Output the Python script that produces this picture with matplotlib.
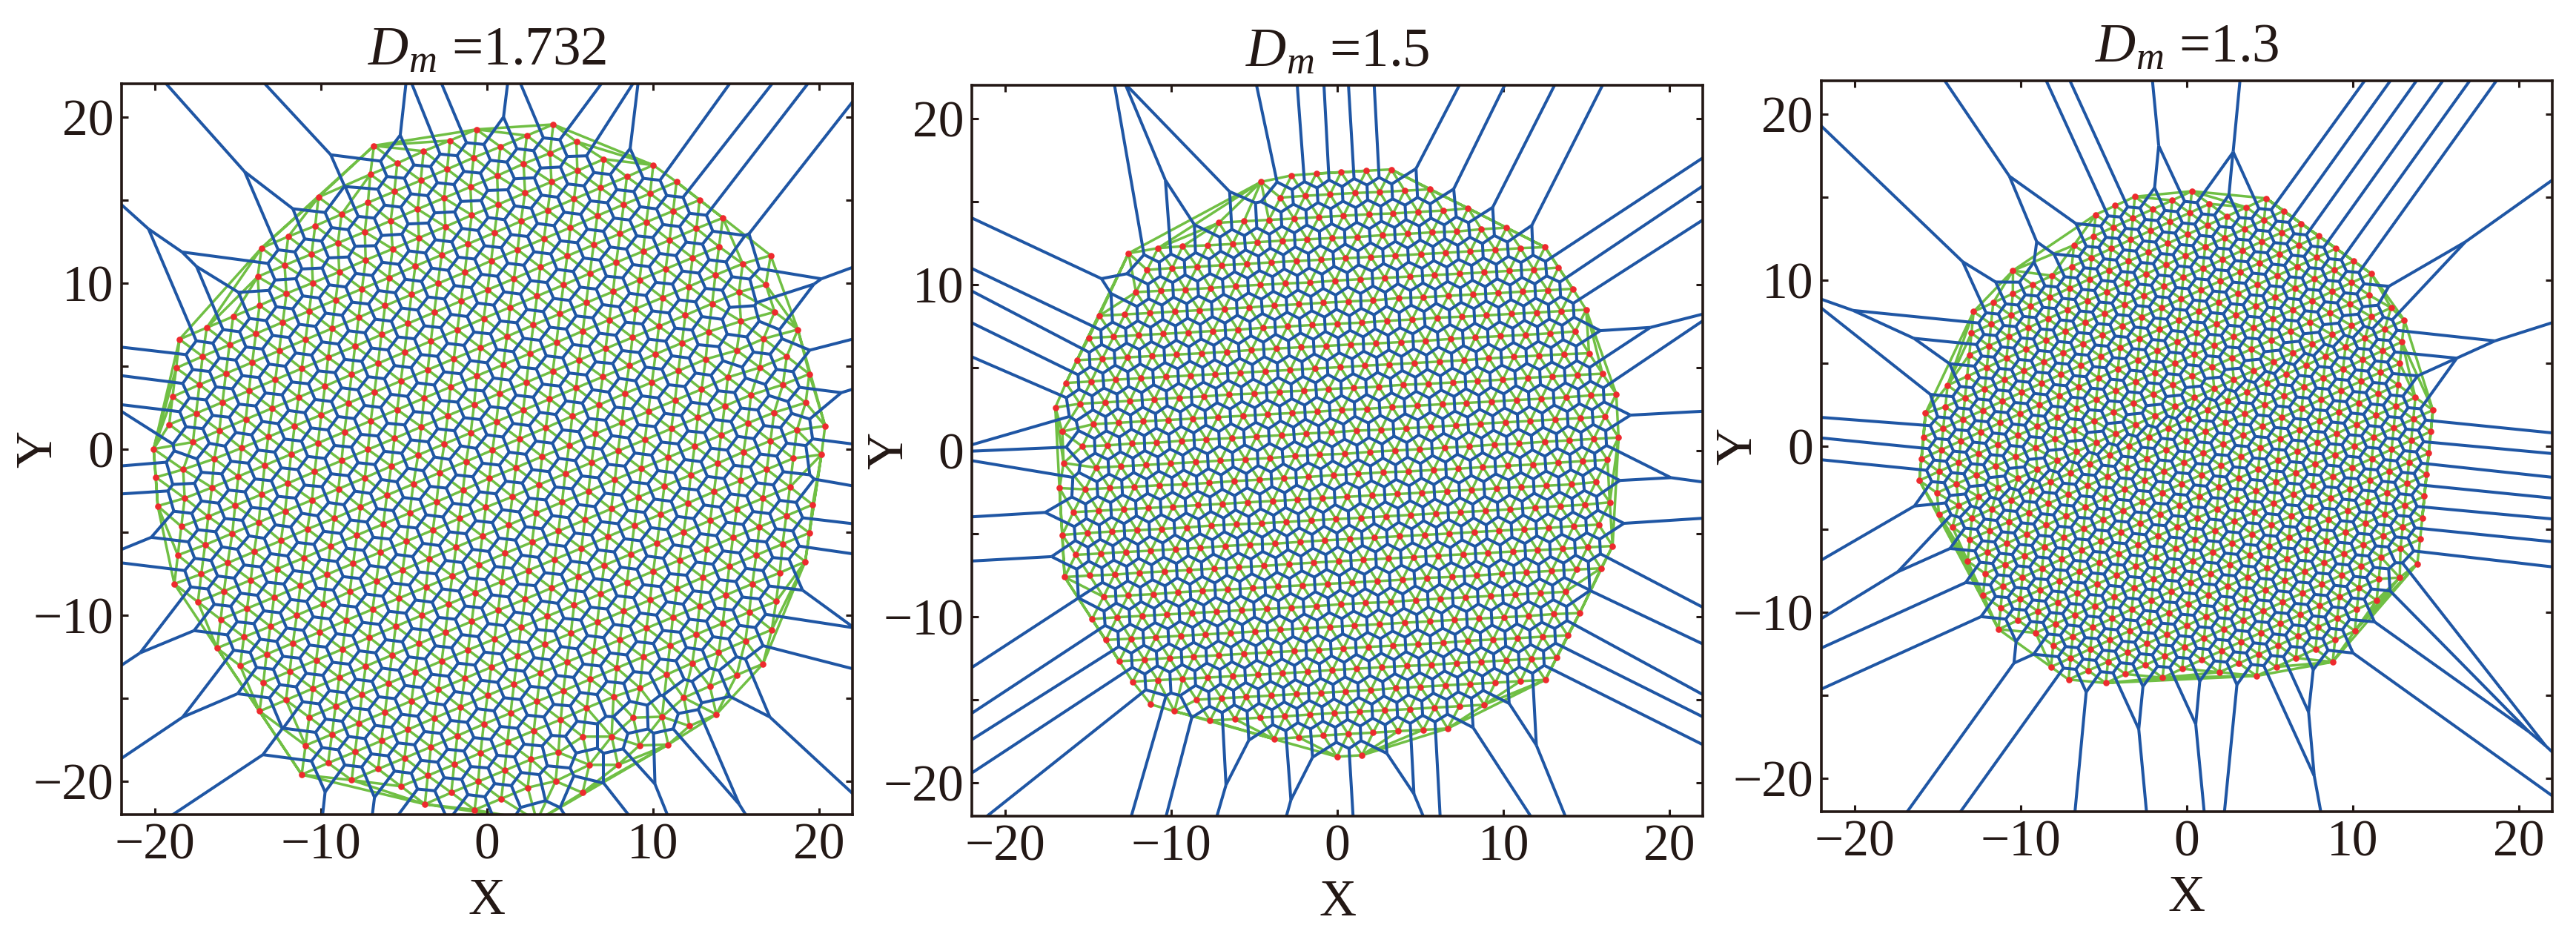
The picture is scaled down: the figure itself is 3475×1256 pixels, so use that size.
import numpy as np
import matplotlib
matplotlib.use('Agg')
import matplotlib.pyplot as plt
import matplotlib.tri as mtri
from matplotlib.collections import LineCollection

# particle positions, one line = one lattice row
p1_x = [-6.81,
 -10.15,-7.03,-5.41,-3.82,-2.23,-0.64,
 -13.58,-11.97,-10.35,-8.76,-7.17,-5.58,-3.99,-2.40,-0.81,0.81,2.40,3.99,
 -13.81,-12.19,-10.57,-8.98,-7.36,-5.80,-4.18,-2.59,-1.00,0.61,2.20,3.79,5.38,
 -18.52,-16.88,-15.29,-13.70,-12.08,-10.49,-8.90,-7.31,-5.69,-4.10,-2.51,-0.92,0.67,2.29,3.88,5.44,7.03,
 -18.72,-17.13,-15.51,-13.92,-12.30,-10.71,-9.12,-7.53,-5.91,-4.32,-2.73,-1.14,0.45,2.04,3.65,5.24,6.83,8.42,10.01,
 -18.94,-17.32,-15.73,-14.14,-12.52,-10.93,-9.34,-7.73,-6.14,-4.55,-2.96,-1.34,0.25,1.84,3.43,5.02,6.64,8.23,9.82,11.41,
 -19.14,-17.52,-15.93,-14.34,-12.75,-11.16,-9.57,-7.95,-6.36,-4.77,-3.18,-1.56,0.03,1.62,3.21,4.83,6.42,8.01,9.59,11.21,12.80,
 -20.08,-17.71,-16.12,-14.53,-12.94,-11.35,-9.76,-8.15,-6.56,-4.97,-3.38,-1.79,-0.20,1.39,3.01,4.60,6.19,7.78,9.40,10.99,12.61,14.20,
 -19.94,-18.30,-16.43,-14.79,-13.18,-11.59,-9.98,-8.37,-6.78,-5.19,-3.57,-2.00,-0.39,1.20,2.79,4.38,5.97,7.59,9.18,10.76,12.38,13.97,
 -19.83,-18.21,-16.57,-14.98,-13.39,-11.80,-10.18,-8.59,-7.00,-5.41,-3.79,-2.20,-0.61,0.98,2.57,4.18,5.77,7.36,8.95,10.57,12.16,13.75,15.40,17.08,
 -18.41,-16.79,-15.17,-13.58,-11.99,-10.38,-8.76,-7.17,-5.58,-3.96,-2.37,-0.78,0.75,2.37,3.96,5.55,7.14,8.76,10.35,11.94,13.56,15.17,16.79,
 -18.62,-16.98,-15.34,-13.75,-12.16,-10.54,-8.95,-7.36,-5.77,-4.15,-2.57,-0.98,0.56,2.18,3.77,5.36,6.97,8.56,10.15,11.74,13.33,15.29,17.32,
 -18.83,-17.21,-15.62,-14.03,-12.41,-10.82,-9.21,-7.62,-6.03,-4.44,-2.85,-1.26,0.33,1.95,3.54,5.13,6.72,8.31,9.93,11.52,13.17,15.04,16.65,18.72,
 -17.41,-15.84,-14.23,-12.64,-11.02,-9.43,-7.84,-6.25,-4.66,-3.04,-1.45,0.14,1.73,3.32,4.94,6.53,8.12,9.71,11.32,12.92,14.50,16.43,18.05,
 -16.04,-14.45,-12.83,-11.24,-9.65,-8.06,-6.44,-4.85,-3.26,-1.67,-0.08,1.53,3.12,4.71,6.30,7.89,9.51,11.10,12.69,14.31,15.90,17.82,19.41,
 -16.26,-14.64,-13.05,-11.46,-9.85,-8.26,-6.67,-5.08,-3.49,-1.87,-0.28,1.31,2.93,4.52,6.11,7.70,9.29,10.91,12.50,14.09,15.70,17.29,19.19,
 -14.87,-13.28,-11.69,-10.07,-8.48,-6.89,-5.30,-3.68,-2.09,-0.50,1.09,2.71,4.30,5.89,7.48,9.09,10.68,12.27,13.89,15.45,17.07,18.66,20.36,
 -13.47,-11.88,-10.29,-8.70,-7.09,-5.50,-3.91,-2.32,-0.70,0.89,2.48,4.07,5.69,7.28,8.87,10.46,12.08,13.67,15.26,16.85,18.44,20.14,
 -13.70,-12.11,-10.49,-8.90,-7.31,-5.72,-4.10,-2.51,-0.92,0.67,2.29,3.88,5.47,7.06,8.65,10.24,11.85,13.44,15.03,16.62,18.24,
 -10.71,-9.12,-7.53,-5.94,-4.32,-2.73,-1.14,0.45,2.04,3.63,5.24,6.83,8.42,10.01,11.60,13.22,14.81,16.40,18.02,19.61,
 -10.93,-9.34,-7.73,-6.14,-4.55,-2.93,-1.34,0.25,1.84,3.46,5.05,6.64,8.23,9.82,11.44,13.00,14.59,16.21,17.80,19.41,
 -11.16,-9.57,-7.95,-6.36,-4.77,-3.18,-1.59,0.03,1.62,3.21,4.80,6.42,8.01,9.60,11.19,12.80,14.39,15.98,17.63,19.16,
 -8.15,-6.56,-4.97,-3.38,-1.79,-0.20,1.42,3.01,4.60,6.22,7.81,9.40,11.02,12.61,14.20,15.79,17.41,
 -5.19,-3.57,-1.98,-0.39,1.23,2.82,4.44,6.00,7.62,9.21,10.82,12.36,13.95,15.56,17.15,
 -3.74,-2.15,-0.53,1.06,2.65,4.30,5.77,7.50,8.81,10.54,11.85,13.42,15.03,16.62,
 -0.75,0.86,2.45,4.13,6.16,7.89,9.18,10.91,12.19,13.81,
 5.75,3.00]
p1_y = [18.27,
 15.17,16.54,17.21,17.94,18.58,19.25,
 12.11,12.80,13.44,14.14,14.84,15.51,16.18,16.85,17.55,18.21,18.88,19.55,
 10.38,11.07,11.74,12.41,13.08,13.75,14.45,15.12,15.79,16.46,17.18,17.82,18.52,
 6.61,7.31,7.98,8.65,9.37,10.01,10.67,11.38,12.05,12.72,13.39,14.09,14.73,15.43,16.09,16.76,17.46,
 4.88,5.58,6.28,6.95,7.64,8.31,8.98,9.65,10.32,11.02,11.69,12.36,13.03,13.72,14.37,15.06,15.73,16.40,17.10,
 3.15,3.88,4.55,5.22,5.92,6.59,7.26,7.93,8.63,9.30,9.97,10.64,11.34,12.00,12.67,13.34,14.05,14.73,15.39,16.09,
 1.48,2.15,2.82,3.51,4.18,4.85,5.52,6.19,6.89,7.56,8.23,8.92,9.59,10.26,10.96,11.63,12.30,12.97,13.67,14.34,15.00,
 0.00,0.42,1.12,1.79,2.46,3.12,3.79,4.49,5.16,5.83,6.50,7.17,7.87,8.54,9.21,9.88,10.58,11.24,11.91,12.58,13.28,13.92,
 -1.70,-1.23,-0.59,0.06,0.73,1.39,2.06,2.76,3.43,4.10,4.77,5.44,6.11,6.78,7.47,8.14,8.81,9.48,10.18,10.85,11.52,12.19,
 -3.43,-2.96,-2.32,-1.65,-0.98,-0.31,0.36,1.03,1.70,2.37,3.07,3.74,4.41,5.08,5.75,6.42,7.11,7.78,8.45,9.12,9.79,10.48,11.16,11.66,
 -4.66,-4.07,-3.40,-2.73,-2.06,-1.37,-0.70,-0.03,0.64,1.34,2.01,2.68,3.35,4.02,4.69,5.36,6.05,6.72,7.39,8.06,8.76,9.45,9.90,
 -6.39,-5.77,-5.08,-4.41,-3.74,-3.07,-2.40,-1.73,-1.03,-0.36,0.31,0.98,1.65,2.34,3.01,3.68,4.35,5.02,5.72,6.39,7.06,7.70,8.26,
 -8.12,-7.53,-6.86,-6.19,-5.52,-4.82,-4.18,-3.48,-2.78,-2.11,-1.42,-0.75,-0.06,0.61,1.28,1.98,2.65,3.35,4.02,4.71,5.41,5.94,6.64,7.20,
 -9.21,-8.56,-7.89,-7.22,-6.55,-5.86,-5.19,-4.52,-3.85,-3.18,-2.48,-1.76,-1.12,-0.45,0.22,0.92,1.59,2.26,2.93,3.60,4.32,4.91,5.58,
 -10.26,-9.60,-8.93,-8.23,-7.56,-6.89,-6.22,-5.55,-4.88,-4.18,-3.51,-2.87,-2.15,-1.48,-0.81,-0.11,0.56,1.23,1.90,2.59,3.26,3.88,4.52,
 -11.99,-11.32,-10.68,-10.01,-9.32,-8.59,-7.95,-7.28,-6.61,-5.91,-5.24,-4.57,-3.87,-3.20,-2.54,-1.84,-1.17,-0.50,0.17,0.84,1.56,2.20,2.79,
 -13.05,-12.36,-11.69,-11.02,-10.32,-9.65,-8.98,-8.31,-7.64,-6.97,-6.28,-5.61,-4.94,-4.27,-3.60,-2.90,-2.23,-1.56,-0.86,-0.17,0.50,1.14,1.39,
 -14.06,-13.39,-12.72,-12.05,-11.35,-10.68,-10.01,-9.34,-8.65,-7.98,-7.31,-6.64,-5.97,-5.27,-4.60,-3.93,-3.26,-2.57,-1.90,-1.23,-0.56,-0.33,
 -15.79,-15.12,-14.42,-13.75,-13.08,-12.41,-11.72,-11.05,-10.38,-9.71,-9.04,-8.37,-7.67,-7.00,-6.33,-5.66,-4.99,-4.30,-3.63,-2.96,-2.29,
 -16.15,-15.48,-14.78,-14.11,-13.44,-12.77,-12.10,-11.44,-10.74,-10.07,-9.40,-8.73,-8.03,-7.36,-6.69,-6.02,-5.33,-4.69,-4.02,-3.35,
 -17.85,-17.18,-16.51,-15.84,-15.17,-14.48,-13.81,-13.14,-12.47,-11.77,-11.10,-10.43,-9.76,-9.09,-8.42,-7.73,-7.06,-6.39,-5.72,-5.05,
 -19.61,-18.91,-18.24,-17.57,-16.90,-16.20,-15.54,-14.84,-14.17,-13.50,-12.83,-12.16,-11.49,-10.79,-10.13,-9.46,-8.79,-8.12,-7.45,-6.78,
 -19.94,-19.27,-18.61,-17.94,-17.27,-16.57,-15.90,-15.20,-14.56,-13.86,-13.19,-12.52,-11.83,-11.16,-10.49,-9.82,-9.18,
 -20.31,-19.67,-19.00,-18.30,-17.63,-16.96,-16.29,-15.59,-14.92,-14.39,-13.58,-12.89,-12.25,-11.55,-10.88,
 -21.39,-20.69,-20.03,-19.36,-18.69,-18.27,-17.32,-17.32,-16.18,-16.12,-14.98,-14.28,-13.61,-12.94,
 -21.73,-21.06,-20.39,-20.00,-19.02,-19.02,-17.85,-17.80,-16.68,-15.98,
 -20.70,-22.40]

p2_x = [-4.60,-2.76,-1.28,0.22,1.73,3.24,
 -3.43,-1.95,-0.45,1.06,2.54,4.05,5.55,
 -7.14,-5.63,-4.13,-2.62,-1.12,0.36,1.90,3.35,4.85,6.36,7.87,
 -12.58,-10.80,-9.32,-7.81,-6.31,-4.83,-3.32,-1.82,-0.31,1.20,2.71,4.21,5.69,7.20,8.67,10.18,
 -11.46,-9.95,-8.45,-6.97,-5.47,-3.99,-2.48,-0.98,0.50,2.01,3.49,5.02,6.53,8.00,9.51,11.02,12.50,
 -12.13,-10.65,-9.15,-7.64,-6.14,-4.63,-3.15,-1.65,-0.14,1.37,2.85,4.38,5.86,7.36,8.84,10.34,11.82,13.31,
 -14.34,-12.80,-11.30,-9.79,-8.31,-6.81,-5.30,-3.80,-2.32,-0.84,0.67,2.15,3.68,5.16,6.67,8.17,9.68,11.16,12.66,14.17,
 -14.98,-13.47,-11.99,-10.48,-8.98,-7.50,-6.00,-4.49,-3.01,-1.51,0.00,1.48,2.99,4.49,6.00,7.51,8.98,10.48,11.99,13.47,14.98,
 -15.68,-14.17,-12.66,-11.16,-9.68,-8.17,-6.67,-5.19,-3.68,-2.18,-0.67,0.81,2.32,3.82,5.30,6.81,8.31,9.82,11.33,12.80,14.31,
 -16.35,-14.84,-13.36,-11.85,-10.34,-8.84,-7.36,-5.86,-4.35,-2.85,-1.37,0.17,1.65,3.12,4.63,6.14,7.64,9.12,10.62,12.13,13.64,15.15,
 -16.99,-15.51,-14.00,-12.50,-11.02,-9.54,-8.03,-6.53,-5.02,-3.51,-2.04,-0.53,0.98,2.48,3.96,5.47,6.97,8.45,9.96,11.47,12.94,14.45,15.96,
 -14.70,-13.19,-11.69,-10.18,-8.70,-7.20,-5.69,-4.21,-2.71,-1.20,0.28,1.79,3.29,4.80,6.31,7.78,9.29,10.79,12.27,13.78,15.28,16.79,
 -16.57,-15.37,-13.86,-12.36,-10.88,-9.37,-7.89,-6.36,-4.88,-3.37,-1.87,-0.36,1.14,2.62,4.13,5.61,7.12,8.62,10.12,11.60,13.11,14.62,16.12,
 -16.49,-14.53,-13.05,-11.54,-10.04,-8.54,-7.06,-5.55,-4.05,-2.54,-1.06,0.45,1.96,3.46,4.94,6.45,7.95,9.46,10.94,12.47,13.95,15.43,16.93,
 -16.74,-15.20,-13.72,-12.22,-10.71,-9.20,-7.73,-6.22,-4.71,-3.24,-1.73,-0.22,1.26,2.76,4.27,5.78,7.29,8.76,10.26,11.77,13.28,14.76,16.26,
 -15.90,-14.39,-12.88,-11.38,-9.90,-8.39,-6.92,-5.41,-3.90,-2.40,-0.92,0.59,2.09,3.60,5.08,6.59,8.09,9.59,11.07,12.58,14.09,15.56,
 -16.57,-15.06,-13.58,-12.08,-10.57,-9.06,-7.59,-6.08,-4.57,-3.07,-1.59,-0.08,1.43,2.93,4.41,5.92,7.42,8.92,10.40,11.90,13.41,14.89,16.40,
 -15.76,-14.25,-12.75,-11.24,-9.76,-8.26,-6.75,-5.27,-3.77,-2.26,-0.75,0.73,2.23,3.74,5.24,6.72,8.23,9.73,11.24,12.72,14.23,15.73,
 -16.43,-14.92,-13.42,-11.91,-10.43,-8.92,-7.42,-5.94,-4.43,-2.93,-1.42,0.06,1.57,3.07,4.58,6.08,7.56,9.07,10.57,12.05,13.56,15.06,16.57,
 -14.09,-12.61,-11.10,-9.60,-8.12,-6.61,-5.11,-3.60,-2.12,-0.61,0.89,2.40,3.91,5.38,6.89,8.40,9.90,11.38,12.89,14.39,15.87,
 -14.78,-13.27,-11.77,-10.26,-8.78,-7.28,-5.77,-4.27,-2.79,-1.28,0.20,1.70,3.21,4.71,6.19,7.70,9.21,10.71,12.22,13.72,
 -13.95,-12.44,-10.93,-9.43,-7.95,-6.45,-4.97,-3.46,-1.95,-0.45,1.03,2.54,4.04,5.55,7.06,8.53,10.04,11.52,13.03,14.59,
 -13.14,-11.63,-10.12,-8.65,-7.14,-5.64,-4.13,-2.62,-1.14,0.36,1.87,3.35,4.85,6.36,7.87,9.37,10.85,12.36,13.86,
 -12.33,-10.82,-9.32,-7.81,-6.31,-4.80,-3.32,-1.81,-0.31,1.17,2.68,4.18,5.66,7.17,8.67,10.18,11.67,13.19,
 -11.24,-8.48,-6.98,-5.50,-3.99,-2.48,-0.98,0.50,2.01,3.51,4.99,6.50,8.00,9.51,11.02,12.52,
 -9.82,-7.67,-6.17,-4.66,-3.18,-1.65,-0.17,1.34,2.85,4.35,5.86,7.34,8.84,
 -3.82,-2.34,-0.84,0.64,2.15,3.65,5.16,6.64,
 -0.03,1.48]
p2_y = [16.18,16.57,16.68,16.76,16.85,16.93,
 15.23,15.34,15.43,15.51,15.57,15.65,15.73,
 13.72,13.81,13.89,13.97,14.06,14.14,14.23,14.28,14.37,14.45,14.59,
 11.88,12.19,12.30,12.36,12.44,12.55,12.64,12.72,12.80,12.86,12.97,13.05,13.14,13.19,13.33,13.42,
 10.88,10.99,11.07,11.16,11.24,11.33,11.41,11.49,11.58,11.66,11.74,11.83,11.91,12.00,12.08,12.19,12.25,
 9.54,9.62,9.70,9.79,9.90,9.98,10.06,10.12,10.23,10.32,10.40,10.48,10.57,10.65,10.73,10.82,10.90,11.02,
 8.12,8.20,8.28,8.37,8.45,8.54,8.62,8.73,8.81,8.90,8.98,9.04,9.18,9.23,9.32,9.40,9.48,9.57,9.65,9.74,
 6.78,6.86,6.95,7.03,7.11,7.20,7.28,7.39,7.47,7.56,7.64,7.70,7.81,7.89,8.00,8.06,8.14,8.23,8.31,8.40,8.48,
 5.44,5.52,5.61,5.69,5.78,5.86,5.94,6.05,6.14,6.22,6.30,6.39,6.45,6.53,6.61,6.72,6.81,6.89,6.97,7.06,7.17,
 4.07,4.16,4.27,4.35,4.44,4.52,4.60,4.69,4.77,4.85,4.94,5.02,5.11,5.19,5.27,5.36,5.44,5.55,5.64,5.72,5.80,5.86,
 2.59,2.82,2.90,2.99,3.09,3.18,3.26,3.37,3.43,3.54,3.60,3.71,3.77,3.85,3.96,4.02,4.10,4.18,4.27,4.38,4.46,4.55,4.63,
 1.59,1.67,1.76,1.84,1.92,2.01,2.09,2.18,2.26,2.34,2.45,2.51,2.62,2.70,2.79,2.87,2.95,3.04,3.12,3.21,3.32,3.40,
 1.14,0.25,0.31,0.42,0.47,0.59,0.67,0.75,0.84,0.92,1.03,1.09,1.20,1.25,1.34,1.42,1.51,1.62,1.70,1.78,1.87,1.95,2.06,
 -0.75,-1.03,-0.95,-0.87,-0.78,-0.70,-0.61,-0.53,-0.45,-0.33,-0.25,-0.20,-0.08,0.00,0.08,0.17,0.25,0.36,0.42,0.53,0.61,0.70,0.78,
 -2.26,-2.34,-2.26,-2.18,-2.09,-2.04,-1.95,-1.84,-1.76,-1.67,-1.59,-1.48,-1.40,-1.31,-1.26,-1.17,-1.09,-1.00,-0.92,-0.84,-0.73,-0.64,-0.56,
 -3.71,-3.63,-3.54,-3.46,-3.38,-3.29,-3.21,-3.12,-3.04,-2.96,-2.87,-2.79,-2.70,-2.62,-2.54,-2.45,-2.37,-2.28,-2.20,-2.12,-2.04,-1.90,
 -5.08,-4.97,-4.88,-4.80,-4.72,-4.63,-4.52,-4.44,-4.38,-4.30,-4.21,-4.13,-4.05,-3.96,-3.88,-3.79,-3.71,-3.63,-3.54,-3.43,-3.35,-3.26,-3.12,
 -6.28,-6.20,-6.11,-6.03,-5.94,-5.86,-5.75,-5.66,-5.61,-5.50,-5.41,-5.33,-5.25,-5.16,-5.08,-5.00,-4.91,-4.83,-4.74,-4.66,-4.55,-4.46,
 -7.62,-7.53,-7.47,-7.36,-7.28,-7.20,-7.11,-7.03,-6.95,-6.84,-6.75,-6.67,-6.58,-6.50,-6.42,-6.33,-6.25,-6.17,-6.08,-6.00,-5.92,-5.83,-5.75,
 -8.81,-8.73,-8.65,-8.54,-8.45,-8.37,-8.29,-8.20,-8.12,-8.03,-7.95,-7.87,-7.78,-7.67,-7.61,-7.53,-7.42,-7.34,-7.25,-7.17,-7.09,
 -10.15,-10.04,-9.96,-9.87,-9.79,-9.71,-9.62,-9.54,-9.46,-9.37,-9.26,-9.18,-9.12,-9.01,-8.92,-8.84,-8.76,-8.67,-8.59,-8.51,
 -11.41,-11.33,-11.24,-11.16,-11.07,-10.99,-10.90,-10.79,-10.71,-10.62,-10.54,-10.46,-10.37,-10.29,-10.20,-10.12,-10.04,-9.96,-9.85,-9.79,
 -12.69,-12.60,-12.49,-12.41,-12.33,-12.24,-12.16,-12.08,-12.00,-11.91,-11.83,-11.75,-11.66,-11.58,-11.46,-11.38,-11.30,-11.21,-11.13,
 -13.92,-13.83,-13.75,-13.67,-13.59,-13.50,-13.42,-13.33,-13.22,-13.14,-13.05,-12.97,-12.91,-12.80,-12.72,-12.64,-12.55,-12.47,
 -15.29,-15.01,-14.92,-14.84,-14.76,-14.67,-14.59,-14.51,-14.43,-14.31,-14.23,-14.14,-14.06,-13.98,-13.89,-13.81,
 -15.70,-16.26,-16.18,-16.09,-16.01,-15.90,-15.81,-15.73,-15.65,-15.57,-15.48,-15.40,-15.31,
 -17.38,-17.27,-17.16,-17.07,-16.99,-16.90,-16.82,-16.74,
 -18.44,-18.35]

p3_x = [-5.48,-4.30,-3.12,
 -10.46,-6.79,-5.61,-4.42,-3.24,-2.06,-0.87,0.31,
 -12.83,-11.65,-10.47,-9.28,-8.10,-6.92,-5.73,-4.55,-3.37,-2.18,-1.00,0.18,1.37,
 -12.96,-11.78,-10.59,-9.41,-8.23,-7.05,-5.86,-4.68,-3.50,-2.31,-1.13,0.05,1.24,2.42,3.60,4.79,
 -13.09,-11.91,-10.72,-9.54,-8.36,-7.17,-5.99,-4.81,-3.62,-2.44,-1.26,-0.07,1.11,2.29,3.48,4.66,5.84,
 -14.40,-13.22,-12.03,-10.85,-9.67,-8.48,-7.30,-6.12,-4.93,-3.75,-2.57,-1.38,-0.20,0.98,2.17,3.35,4.53,5.72,6.90,
 -15.73,-14.53,-13.35,-12.16,-10.98,-9.80,-8.61,-7.43,-6.25,-5.06,-3.88,-2.70,-1.51,-0.33,0.85,2.04,3.22,4.40,5.59,6.77,7.95,
 -15.84,-14.66,-13.48,-12.29,-11.11,-9.93,-8.74,-7.56,-6.38,-5.19,-4.01,-2.83,-1.64,-0.46,0.72,1.91,3.09,4.27,5.46,6.64,7.82,9.00,
 -15.97,-14.79,-13.60,-12.42,-11.24,-10.05,-8.87,-7.69,-6.50,-5.32,-4.14,-2.95,-1.77,-0.59,0.60,1.78,2.96,4.15,5.33,6.51,7.70,8.88,10.06,
 -16.10,-14.92,-13.73,-12.55,-11.37,-10.18,-9.00,-7.82,-6.63,-5.45,-4.27,-3.08,-1.90,-0.72,0.47,1.65,2.83,4.02,5.20,6.38,7.57,8.75,9.93,11.12,
 -15.04,-13.86,-12.67,-11.49,-10.31,-9.12,-7.94,-6.76,-5.57,-4.39,-3.21,-2.02,-0.84,0.34,1.53,2.71,3.89,5.08,6.26,7.44,8.63,9.81,10.99,
 -14.91,-13.73,-12.54,-11.36,-10.18,-8.99,-7.81,-6.63,-5.44,-4.26,-3.08,-1.89,-0.71,0.47,1.66,2.84,4.02,5.21,6.39,7.57,8.76,9.94,11.12,12.31,
 -14.11,-12.93,-11.74,-10.56,-9.38,-8.19,-7.01,-5.83,-4.64,-3.46,-2.28,-1.09,0.09,1.27,2.46,3.64,4.82,6.01,7.19,8.37,9.56,10.74,11.92,13.11,
 -13.06,-11.88,-10.69,-9.51,-8.33,-7.14,-5.96,-4.78,-3.59,-2.41,-1.23,-0.04,1.14,2.32,3.51,4.69,5.87,7.06,8.24,9.42,10.61,11.79,12.97,
 -13.19,-12.01,-10.82,-9.64,-8.46,-7.27,-6.09,-4.91,-3.72,-2.54,-1.36,-0.17,1.01,2.19,3.38,4.56,5.74,6.93,8.11,9.29,10.48,11.66,12.84,
 -12.13,-10.95,-9.76,-8.58,-7.40,-6.21,-5.03,-3.85,-2.66,-1.48,-0.30,0.89,2.07,3.25,4.44,5.62,6.80,7.99,9.17,10.35,11.54,12.72,
 -12.26,-11.08,-9.89,-8.71,-7.53,-6.34,-5.16,-3.98,-2.79,-1.61,-0.43,0.76,1.94,3.12,4.31,5.49,6.67,7.86,9.04,10.22,11.41,12.59,13.77,
 -11.20,-10.02,-8.83,-7.65,-6.47,-5.28,-4.10,-2.92,-1.73,-0.55,0.63,1.82,3.00,4.18,5.37,6.55,7.73,8.92,10.10,11.28,12.47,13.65,14.83,
 -11.33,-10.15,-8.96,-7.78,-6.60,-5.41,-4.23,-3.05,-1.86,-0.68,0.50,1.69,2.87,4.05,5.24,6.42,7.60,8.79,9.97,11.15,12.34,13.52,14.70,
 -9.09,-7.91,-6.72,-5.54,-4.36,-3.17,-1.99,-0.81,0.38,1.56,2.74,3.93,5.11,6.29,7.48,8.66,9.84,11.03,12.21,13.39,14.58,
 -8.04,-6.86,-5.67,-4.49,-3.31,-2.12,-0.94,0.24,1.43,2.61,3.79,4.98,6.16,7.34,8.53,9.71,10.89,12.08,13.26,14.44,
 -8.17,-6.99,-5.80,-4.62,-3.44,-2.25,-1.07,0.11,1.30,2.48,3.66,4.85,6.03,7.21,8.40,9.58,10.76,11.95,13.13,14.31,
 -7.11,-5.93,-4.74,-3.56,-2.38,-1.19,-0.01,1.17,2.36,3.54,4.72,5.91,7.09,8.27,9.46,10.64,11.82,13.01,14.19,
 -4.87,-3.69,-2.50,-1.32,-0.14,1.05,2.23,3.41,4.60,5.78,6.96,8.15,9.33,10.51,11.70,12.88,14.06,
 -1.45,-0.27,0.92,2.10,3.28,4.47,5.65,6.83,8.02,9.20,10.38,11.57,12.83,13.89,
 1.97,3.15,4.34,5.52,6.70,7.89,9.07,10.25,11.44,
 4.21,5.39,6.58,7.76,8.94,10.13,
 8.79]
p3_y = [13.94,14.48,15.02,
 10.57,12.10,12.64,13.18,13.72,14.26,14.80,15.35,
 8.10,8.64,9.18,9.72,10.26,10.81,11.35,11.89,12.43,12.97,13.51,14.05,14.59,
 6.80,7.34,7.88,8.42,8.97,9.51,10.05,10.59,11.13,11.67,12.21,12.75,13.30,13.84,14.38,14.92,
 5.50,6.04,6.58,7.13,7.67,8.21,8.75,9.29,9.83,10.37,10.91,11.46,12.00,12.54,13.08,13.62,14.16,
 3.66,4.20,4.74,5.29,5.83,6.37,6.91,7.45,7.99,8.53,9.07,9.62,10.16,10.70,11.24,11.78,12.32,12.86,13.40,
 1.98,2.37,2.91,3.45,3.99,4.53,5.07,5.62,6.16,6.70,7.24,7.78,8.32,8.86,9.40,9.95,10.49,11.03,11.57,12.11,12.65,
 0.53,1.07,1.61,2.15,2.70,3.24,3.78,4.32,4.86,5.40,5.94,6.48,7.03,7.57,8.11,8.65,9.19,9.73,10.27,10.81,11.36,11.90,
 -0.77,-0.23,0.31,0.85,1.40,1.94,2.48,3.02,3.56,4.10,4.64,5.18,5.73,6.27,6.81,7.35,7.89,8.43,8.97,9.51,10.06,10.60,11.14,
 -2.07,-1.53,-0.99,-0.45,0.10,0.64,1.18,1.72,2.26,2.80,3.34,3.88,4.43,4.97,5.51,6.05,6.59,7.13,7.67,8.21,8.76,9.30,9.84,10.38,
 -2.82,-2.28,-1.74,-1.20,-0.65,-0.11,0.43,0.97,1.51,2.05,2.59,3.13,3.68,4.22,4.76,5.30,5.84,6.38,6.92,7.46,8.01,8.55,9.09,
 -4.12,-3.58,-3.04,-2.50,-1.95,-1.41,-0.87,-0.33,0.21,0.75,1.29,1.83,2.38,2.92,3.46,4.00,4.54,5.08,5.62,6.16,6.71,7.25,7.79,8.33,
 -4.87,-4.33,-3.79,-3.25,-2.70,-2.16,-1.62,-1.08,-0.54,0.00,0.54,1.08,1.63,2.17,2.71,3.25,3.79,4.33,4.87,5.41,5.96,6.50,7.04,7.58,
 -5.63,-5.09,-4.55,-4.01,-3.46,-2.92,-2.38,-1.84,-1.30,-0.76,-0.22,0.32,0.87,1.41,1.95,2.49,3.03,3.57,4.11,4.65,5.20,5.74,6.28,
 -6.93,-6.39,-5.85,-5.31,-4.76,-4.22,-3.68,-3.14,-2.60,-2.06,-1.52,-0.98,-0.43,0.11,0.65,1.19,1.73,2.27,2.81,3.35,3.90,4.44,4.98,
 -7.68,-7.14,-6.60,-6.06,-5.51,-4.97,-4.43,-3.89,-3.35,-2.81,-2.27,-1.73,-1.18,-0.64,-0.10,0.44,0.98,1.52,2.06,2.60,3.15,3.69,
 -8.98,-8.44,-7.90,-7.36,-6.81,-6.27,-5.73,-5.19,-4.65,-4.11,-3.57,-3.03,-2.48,-1.94,-1.40,-0.86,-0.32,0.22,0.76,1.30,1.85,2.39,2.93,
 -9.74,-9.20,-8.66,-8.12,-7.57,-7.03,-6.49,-5.95,-5.41,-4.87,-4.33,-3.79,-3.24,-2.70,-2.16,-1.62,-1.08,-0.54,0.00,0.54,1.09,1.63,2.17,
 -11.03,-10.49,-9.95,-9.41,-8.86,-8.32,-7.78,-7.24,-6.70,-6.16,-5.62,-5.08,-4.53,-3.99,-3.45,-2.91,-2.37,-1.83,-1.29,-0.75,-0.20,0.34,0.88,
 -11.25,-10.71,-10.17,-9.63,-9.08,-8.54,-8.00,-7.46,-6.92,-6.38,-5.84,-5.30,-4.75,-4.21,-3.67,-3.13,-2.59,-2.05,-1.51,-0.97,-0.42,
 -12.00,-11.46,-10.92,-10.38,-9.83,-9.29,-8.75,-8.21,-7.67,-7.13,-6.59,-6.05,-5.50,-4.96,-4.42,-3.88,-3.34,-2.80,-2.26,-1.72,
 -13.30,-12.76,-12.22,-11.68,-11.13,-10.59,-10.05,-9.51,-8.97,-8.43,-7.89,-7.35,-6.80,-6.26,-5.72,-5.18,-4.64,-4.10,-3.56,-3.02,
 -14.06,-13.52,-12.98,-12.44,-11.89,-11.35,-10.81,-10.27,-9.73,-9.19,-8.65,-8.11,-7.56,-7.02,-6.48,-5.94,-5.40,-4.86,-4.32,
 -14.27,-13.73,-13.19,-12.65,-12.10,-11.56,-11.02,-10.48,-9.94,-9.40,-8.86,-8.32,-7.77,-7.23,-6.69,-6.15,-5.61,
 -13.95,-13.41,-12.87,-12.33,-11.78,-11.24,-10.70,-10.16,-9.62,-9.08,-8.54,-8.00,-7.92,-7.09,
 -13.62,-13.08,-12.54,-12.00,-11.45,-10.91,-10.37,-9.83,-9.29,
 -13.84,-13.30,-12.76,-12.22,-11.67,-11.13,
 -13.00]

titles = [r'$D_m$ =1.732', r'$D_m$ =1.5', r'$D_m$ =1.3']
x_ticks = [-20, -10, 0, 10, 20]
y_ticks = [-20, -15, -10, -5, 0, 5, 10, 15, 20]
y_labels = ['\u221220', '', '\u221210', '', '0', '', '10', '', '20']
lim = 22

GREEN = '#70BF44'
BLUE = '#1F56A4'
RED = '#EE2A2E'

plt.rcParams['font.family'] = ['Liberation Serif', 'DejaVu Serif']
plt.rcParams['mathtext.fontset'] = 'custom'
plt.rcParams['mathtext.rm'] = 'Liberation Serif'
plt.rcParams['mathtext.it'] = 'Liberation Serif:italic'

W, H = 3475, 1256
SIDE = 985.6
boxes = [(164.2, 113), (1311.4, 115), (2457, 109)]  # left, top in pixels


def voronoi_lines(t):
    # Voronoi edges out of the Delaunay triangles: circumcentres + rays on the hull
    px, py = t.x[t.triangles], t.y[t.triangles]
    ax_, bx, cx = px[:, 0], px[:, 1], px[:, 2]
    ay, by, cy = py[:, 0], py[:, 1], py[:, 2]
    d = 2 * (ax_ * (by - cy) + bx * (cy - ay) + cx * (ay - by))
    a2, b2, c2 = ax_**2 + ay**2, bx**2 + by**2, cx**2 + cy**2
    ux = (a2 * (by - cy) + b2 * (cy - ay) + c2 * (ay - by)) / d
    uy = (a2 * (cx - bx) + b2 * (ax_ - cx) + c2 * (bx - ax_)) / d
    segs = []
    for k, tr in enumerate(t.triangles):
        for e in range(3):
            n = t.neighbors[k, e]
            if n > k:
                segs.append([(ux[k], uy[k]), (ux[n], uy[n])])
            elif n == -1:
                p, q, r = tr[e], tr[(e + 1) % 3], tr[(e + 2) % 3]
                nx, ny = t.y[q] - t.y[p], t.x[p] - t.x[q]
                if nx * (t.x[r] - t.x[p]) + ny * (t.y[r] - t.y[p]) > 0:
                    nx, ny = -nx, -ny
                s = 300 / np.hypot(nx, ny)
                segs.append([(ux[k], uy[k]), (ux[k] + nx * s, uy[k] + ny * s)])
    return segs


fig = plt.figure(figsize=(W / 100, H / 100), dpi=100)
panels = [(p1_x, p1_y), (p2_x, p2_y), (p3_x, p3_y)]
for (xs, ys), title, (left, top) in zip(panels, titles, boxes):
    ax = fig.add_axes([left / W, 1 - (top + SIDE) / H, SIDE / W, SIDE / H])
    xs, ys = np.array(xs), np.array(ys)
    t = mtri.Triangulation(xs, ys)
    ax.triplot(t, color=GREEN, lw=2.5, zorder=1)
    ax.add_collection(LineCollection(voronoi_lines(t), colors=BLUE, linewidths=2.9, zorder=2))
    ax.plot(xs, ys, 'o', color=RED, ms=6.2, mew=0, zorder=3)
    ax.set_xlim(-lim, lim)
    ax.set_ylim(-lim, lim)
    ax.set_xticks(x_ticks)
    ax.set_xticklabels(['\u221220', '\u221210', '0', '10', '20'])
    ax.set_yticks(y_ticks)
    ax.set_yticklabels(y_labels)
    ax.tick_params(direction='in', top=True, right=True, length=6.5, width=2.2,
                   labelsize=50, pad=8, color='#231815', labelcolor='#231815')
    for s in ax.spines.values():
        s.set_linewidth(2.6)
        s.set_color('#231815')
    ax.set_title(title, fontsize=54, pad=18, color='#231815')
    ax.set_xlabel('X', fontsize=50, labelpad=8, color='#231815')
    ax.set_ylabel('Y', fontsize=50, labelpad=-29, color='#231815')

plt.savefig('out.png', dpi=100)
